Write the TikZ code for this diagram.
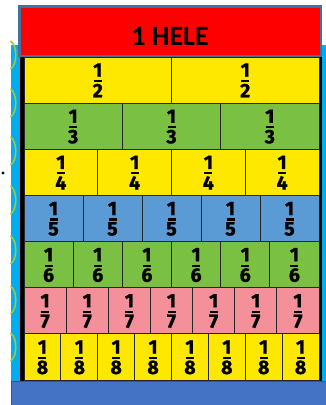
\documentclass[tikz,border=0pt]{standalone}
\usepackage{fontspec}
\setmainfont{Fira Sans}
\newfontfamily\fracfont[BoldFeatures={FakeBold=1.2}]{Fira Sans}
\newfontfamily\helefont{Carlito}
\definecolor{cyanbg}{HTML}{00AEEF}
\definecolor{scal}{HTML}{A8C43C}
\definecolor{yel}{HTML}{FFE800}
\definecolor{grn}{HTML}{7AC143}
\definecolor{blu}{HTML}{5B9BD5}
\definecolor{pnk}{HTML}{F4909A}
\definecolor{redborder}{HTML}{41719C}
\definecolor{botblue}{HTML}{4472C4}
\tikzset{
  cell/.style={draw=black!85, line width=0.8pt},
  numtxt/.style={inner sep=0pt, font=\fracfont\fontsize{19.5}{19.5}\selectfont\bfseries},
  fracbar/.style={line width=2.2pt},
  scallop/.style={draw=scal, line width=1.6pt},
}
\begin{document}
\begin{tikzpicture}[x=1pt,y=-1pt]
\useasboundingbox (0,0) rectangle (326,405);
\fill[white] (0,0) rectangle (326,405);
% cyan background strip
\fill[cyanbg] (11,45) rectangle (326,381);
\foreach \yy in {55,103,151,200,250,300,347}
  \draw[scallop] (10.5,\yy-14) .. controls (17.5,\yy-10) and (17.5,\yy+10) .. (10.5,\yy+14);
% black frame
\fill[black] (20,50) rectangle (322,381.5);
% rows
\foreach \n/\col [count=\ri from 0] in {2/yel,3/grn,4/yel,5/blu,6/grn,7/pnk,8/yel} {
  \pgfmathsetmacro\yt{57+\ri*46.143}
  \pgfmathsetmacro\yb{\yt+46.143}
  \pgfmathsetmacro\yc{\yt+23.07}
  \pgfmathsetmacro\w{295/\n}
  \foreach \k in {1,...,\n} {
    \pgfmathsetmacro\xl{24+(\k-1)*\w}
    \pgfmathsetmacro\xr{\xl+\w}
    \pgfmathsetmacro\xc{(\xl+\xr)/2}
    \draw[cell, fill=\col] (\xl,\yt) rectangle (\xr,\yb);
    \node[numtxt] (one\n-\k) at (\xc,\yc-10) {1};
    \draw[fracbar] (\xc-4,\yc+1) -- (\xc+4,\yc+1);
    \node[numtxt] (den\n-\k) at (\xc,\yc+10.5) {\n};
  }
}
% red header
\draw[fill=red, draw=redborder, line width=2.5pt] (19.25,6.25) rectangle (320.75,55.75);
\node[inner sep=0pt, font=\helefont\fontsize{28}{28}\selectfont\bfseries] (hele) at (170,36) {1 HELE};
% bottom bar
\draw[fill=botblue, draw=botblue!75!black, line width=0.8pt] (11.4,381.4) rectangle (327,406);
% dot
\fill[black] (3,173) circle (1.6);
\end{tikzpicture}
\end{document}
